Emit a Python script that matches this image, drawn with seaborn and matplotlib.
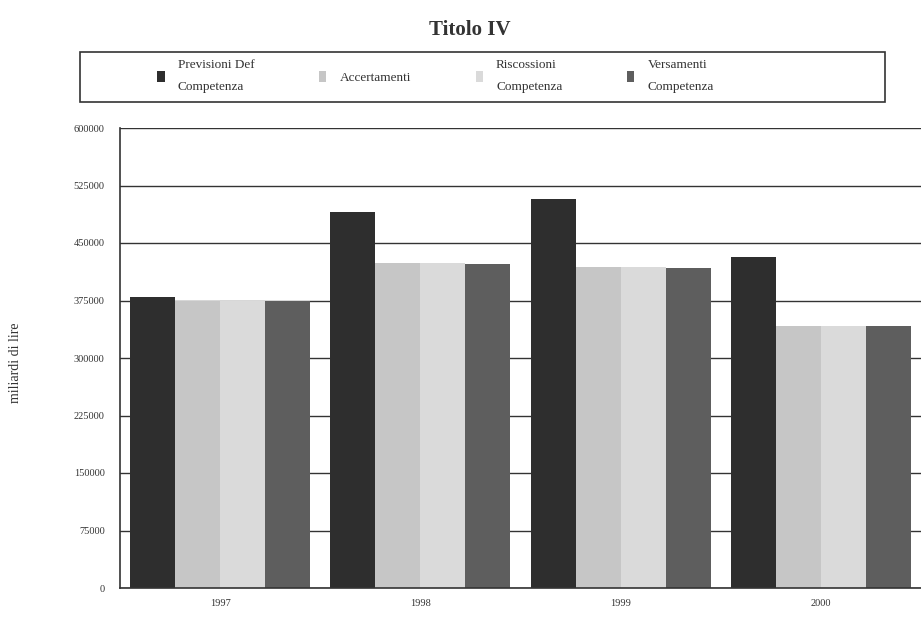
import matplotlib
matplotlib.use("Agg")
import matplotlib.pyplot as plt
import seaborn as sns
import pandas as pd
from matplotlib.patches import Rectangle

# Values (miliardi di lire)
years = ["1997", "1998", "1999", "2000"]
series_names = ["Previsioni Def\nCompetenza", "Accertamenti",
                "Riscossioni\nCompetenza", "Versamenti\nCompetenza"]
previsioni = [380000, 490000, 507000, 432000]
accertamenti = [375000, 424000, 419000, 342000]
riscossioni = [375000, 424000, 419000, 342000]
versamenti = [374000, 422000, 417000, 342000]
y_ticks = [0, 75000, 150000, 225000, 300000, 375000, 450000, 525000, 600000]
colors = ["#2e2e2e", "#c6c6c6", "#dadada", "#5e5e5e"]

rows = []
for name, vals in zip(series_names, [previsioni, accertamenti, riscossioni, versamenti]):
    for yr, v in zip(years, vals):
        rows.append({"anno": yr, "serie": name, "valore": v})
df = pd.DataFrame(rows)

sns.set_style("white")
plt.rcParams["font.family"] = ["Liberation Serif", "DejaVu Serif"]

fig = plt.figure(figsize=(9.21, 6.21), dpi=100)
ax = fig.add_axes([120 / 921, 1 - 588 / 621, 1 - 120 / 921, (588 - 128) / 621])

sns.barplot(data=df, x="anno", y="valore", hue="serie", palette=colors,
            width=0.9, ax=ax, legend=True, saturation=1, linewidth=0)

ax.set_ylim(0, 600000)
ax.set_yticks(y_ticks)
ax.set_yticklabels([str(t) for t in y_ticks], fontsize=7.5, color="#333333")
ax.tick_params(axis="x", labelsize=7.5, labelcolor="#333333", length=0, pad=8)
ax.tick_params(axis="y", length=7, width=1, direction="out", color="#333333", pad=4)
ax.yaxis.grid(True, color="#333333", linewidth=1)
ax.set_axisbelow(True)
ax.set_xlabel("")
ax.set_ylabel("miliardi di lire", fontsize=10, color="#333333")
ax.yaxis.set_label_coords(-0.122, 0.49)
for side in ["top", "right"]:
    ax.spines[side].set_visible(False)
for side in ["left", "bottom"]:
    ax.spines[side].set_color("#333333")
    ax.spines[side].set_linewidth(1.2)

# legend in a boxed strip above the plot
handles, labels = ax.get_legend_handles_labels()
ax.get_legend().remove()
leg = fig.legend(handles, labels, loc="upper left",
                 bbox_to_anchor=(152 / 921, 1 - 54 / 621), ncol=4, frameon=False,
                 fontsize=9.5, handlelength=0.55, handleheight=0.9,
                 handletextpad=1.0, columnspacing=4.9, borderaxespad=0)
for t in leg.get_texts():
    t.set_linespacing(2.1)
    t.set_color("#333333")
fig.patches.append(Rectangle((80 / 921, 1 - 102 / 621), 805 / 921, 50 / 621,
                             transform=fig.transFigure, fill=False,
                             edgecolor="#333333", linewidth=1.2))

fig.text(470 / 921, 1 - 30 / 621, "Titolo IV", ha="center", va="center",
         fontsize=15, fontweight="bold", color="#333333")

fig.savefig("out.png", dpi=100)
